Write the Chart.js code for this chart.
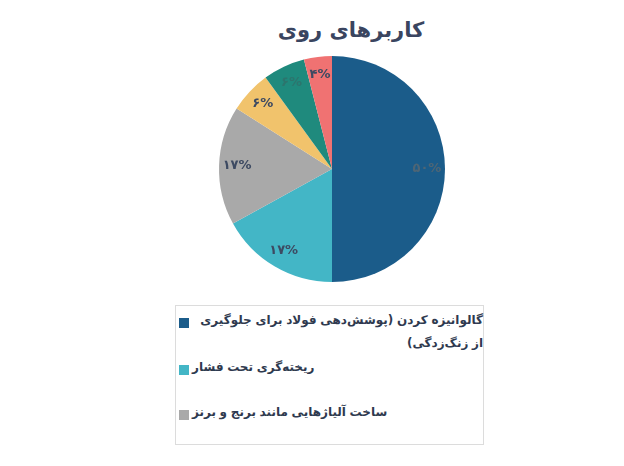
<!DOCTYPE html>
<html lang="fa">
<head>
<meta charset="utf-8">
<script src="https://cdn.jsdelivr.net/npm/chart.js@4"></script>
<style>
  html, body { margin:0; padding:0; background:#fff; }
  #wrap { position:relative; width:624px; height:466px; overflow:hidden; font-family:"DejaVu Sans", sans-serif; }
  #title { position:absolute; left:0; width:702px; top:18px; text-align:center; font-weight:bold; font-size:21px; color:#3a4560; direction:rtl; }
  #pie { position:absolute; left:218px; top:55px; width:228px; height:228px; }
  #legend { position:absolute; left:175px; top:305px; width:309px; height:140px; border:1px solid #dcdcdc; box-sizing:border-box; }
  .item { position:absolute; left:3px; width:304px; display:flex; align-items:flex-start; }
  .mk { width:10px; height:10px; margin-top:5px; margin-right:3px; flex:none; }
  .tx { direction:rtl; text-align:right; font-weight:bold; font-size:12px; word-spacing:-0.5px; line-height:23px; color:#2f3a4f; max-width:293px; margin-top:-4px; }
</style>
</head>
<body>
<div id="wrap">
  <div id="title"></div>
  <div id="pie"><canvas id="c"></canvas></div>
  <div id="legend"></div>
</div>
<script>
const chartTitle = 'کاربرهای روی';
const categories = [
  'گالوانیزه کردن (پوشش‌دهی فولاد برای جلوگیری از زنگ‌زدگی)',
  'ریخته‌گری تحت فشار',
  'ساخت آلیاژهایی مانند برنج و برنز',
  'مواد شیمیایی',
  'نیمه‌ساخته‌ها',
  'سایر'
];
const values = [50, 17, 17, 6, 6, 4];
const colors = ['#1b5c8a', '#43b6c6', '#a9a9a9', '#f1c36c', '#1f8a7d', '#f07272'];
const labelColors = ['rgba(120,110,100,0.55)', '#3d4a62', '#3d4a62', '#3d4a62', 'rgba(60,90,90,0.45)', '#3d4a62'];
const legendShown = [0, 1, 2];
const legendTops = [7, 54, 99];

const faDigits = s => String(s).replace(/\d/g, d => '۰۱۲۳۴۵۶۷۸۹'[d]);

document.getElementById('title').textContent = chartTitle;

const leg = document.getElementById('legend');
legendShown.forEach((i, k) => {
  const it = document.createElement('div');
  it.className = 'item';
  it.style.top = legendTops[k] + 'px';
  const mk = document.createElement('div');
  mk.className = 'mk';
  mk.style.background = colors[i];
  const tx = document.createElement('div');
  tx.className = 'tx';
  tx.textContent = categories[i];
  it.appendChild(mk); it.appendChild(tx);
  leg.appendChild(it);
});

const sliceLabels = {
  id: 'sliceLabels',
  afterDatasetsDraw(chart) {
    const ctx = chart.ctx;
    const meta = chart.getDatasetMeta(0);
    ctx.save();
    ctx.font = 'bold 13px "DejaVu Sans", sans-serif';
    ctx.textAlign = 'center';
    ctx.textBaseline = 'middle';
    meta.data.forEach((arc, i) => {
      const p = arc.getProps(['x', 'y', 'startAngle', 'endAngle', 'outerRadius'], true);
      const mid = (p.startAngle + p.endAngle) / 2;
      const r = p.outerRadius * 0.84;
      ctx.fillStyle = labelColors[i];
      ctx.fillText(faDigits(values[i]) + '%', p.x + Math.cos(mid) * r, p.y + Math.sin(mid) * r);
    });
    ctx.restore();
  }
};

new Chart(document.getElementById('c'), {
  type: 'pie',
  data: {
    labels: categories,
    datasets: [{ data: values, backgroundColor: colors, borderWidth: 0 }]
  },
  options: {
    responsive: true,
    maintainAspectRatio: false,
    animation: false,
    layout: { padding: 1 },
    plugins: { legend: { display: false }, tooltip: { enabled: false }, title: { display: false } }
  },
  plugins: [sliceLabels]
});
</script>
</body>
</html>
